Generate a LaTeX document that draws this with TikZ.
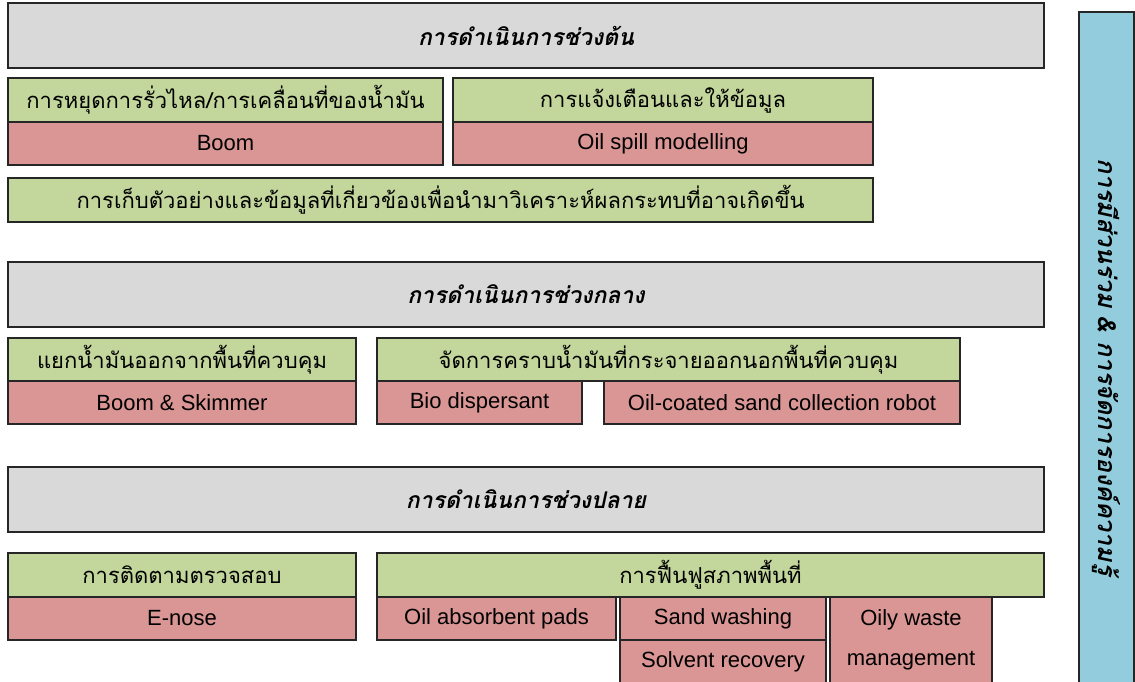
\documentclass[tikz,border=0pt]{standalone}
\usepackage{fontspec}
\setmainfont{Liberation Sans}
\newfontfamily\thaifont[Script=Thai]{Loma}
\definecolor{greyfill}{HTML}{D9D9D9}
\definecolor{greenfill}{HTML}{C3D69B}
\definecolor{redfill}{HTML}{D99694}
\definecolor{bluefill}{HTML}{93CDDD}
\definecolor{edge}{HTML}{262626}
\tikzset{
  bx/.style={draw=edge, line width=1.3pt, inner sep=0pt, outer sep=0pt},
  titlebox/.style={bx, fill=greyfill, font=\thaifont\bfseries\itshape\fontsize{23}{27}\selectfont},
  taskbox/.style={bx, fill=greenfill, font=\thaifont\fontsize{22}{26}\selectfont},
  toolbox/.style={bx, fill=redfill, font=\fontsize{22}{25}\selectfont},
  sidebox/.style={bx, fill=bluefill, font=\thaifont\bfseries\itshape\fontsize{25}{29}\selectfont}
}
\begin{document}
\begin{tikzpicture}[x=1pt,y=-1pt]
\path[use as bounding box, fill=white] (0,0) rectangle (1135,681);
% early phase
\node[titlebox, minimum width=1036pt, minimum height=65pt] (t1) at (526,35.5) {การดำเนินการช่วงต้น};
\node[taskbox, minimum width=435pt, minimum height=44pt] (g1a) at (225.5,100) {การหยุดการรั่วไหล/การเคลื่อนที่ของน้ำมัน};
\node[toolbox, minimum width=435pt, minimum height=43pt] (r1a) at (225.5,143.5) {Boom};
\node[taskbox, minimum width=420pt, minimum height=44pt] (g1b) at (663,100) {การแจ้งเตือนและให้ข้อมูล};
\node[toolbox, minimum width=420pt, minimum height=43pt] (r1b) at (663,143.5) {Oil spill modelling};
\node[taskbox, minimum width=865pt, minimum height=44pt] (g1c) at (440.5,200) {การเก็บตัวอย่างและข้อมูลที่เกี่ยวข้องเพื่อนำมาวิเคราะห์ผลกระทบที่อาจเกิดขึ้น};
% middle phase
\node[titlebox, minimum width=1036pt, minimum height=65pt] (t2) at (526,294.5) {การดำเนินการช่วงกลาง};
\node[taskbox, minimum width=348pt, minimum height=43pt] (g2a) at (182,359.5) {แยกน้ำมันออกจากพื้นที่ควบคุม};
\node[toolbox, minimum width=348pt, minimum height=43pt] (r2a) at (182,402.5) {Boom \& Skimmer};
\node[taskbox, minimum width=583pt, minimum height=43pt] (g2b) at (668.5,359.5) {จัดการคราบน้ำมันที่กระจายออกนอกพื้นที่ควบคุม};
\node[toolbox, minimum width=205pt, minimum height=43pt] (r2b) at (479.5,402.5) {Bio dispersant};
\node[toolbox, minimum width=356pt, minimum height=43pt] (r2c) at (782,402.5) {Oil-coated sand collection robot};
% late phase
\node[titlebox, minimum width=1036pt, minimum height=65pt] (t3) at (526,499.5) {การดำเนินการช่วงปลาย};
\node[taskbox, minimum width=348pt, minimum height=44pt] (g3a) at (182,575) {การติดตามตรวจสอบ};
\node[toolbox, minimum width=348pt, minimum height=43pt] (r3a) at (182,618.5) {E-nose};
\node[taskbox, minimum width=667pt, minimum height=44pt] (g3b) at (710.5,575) {การฟื้นฟูสภาพพื้นที่};
\node[toolbox, minimum width=239pt, minimum height=43pt] (r3b) at (496.5,618.5) {Oil absorbent pads};
\node[toolbox, minimum width=206pt, minimum height=43pt] (r3c) at (723,618.5) {Sand washing};
\node[toolbox, minimum width=206pt, minimum height=43pt] (r3d) at (723,661.5) {Solvent recovery};
\node[toolbox, minimum width=162pt, minimum height=86pt, align=center] (r3e) at (911,640) {Oily waste\\[15pt]management};
% side bar
\node[sidebox, rotate=-90, minimum width=710pt, minimum height=55pt] (side) at (1106.5,367) {การมีส่วนร่วม \& การจัดการองค์ความรู้};
\end{tikzpicture}
\end{document}
